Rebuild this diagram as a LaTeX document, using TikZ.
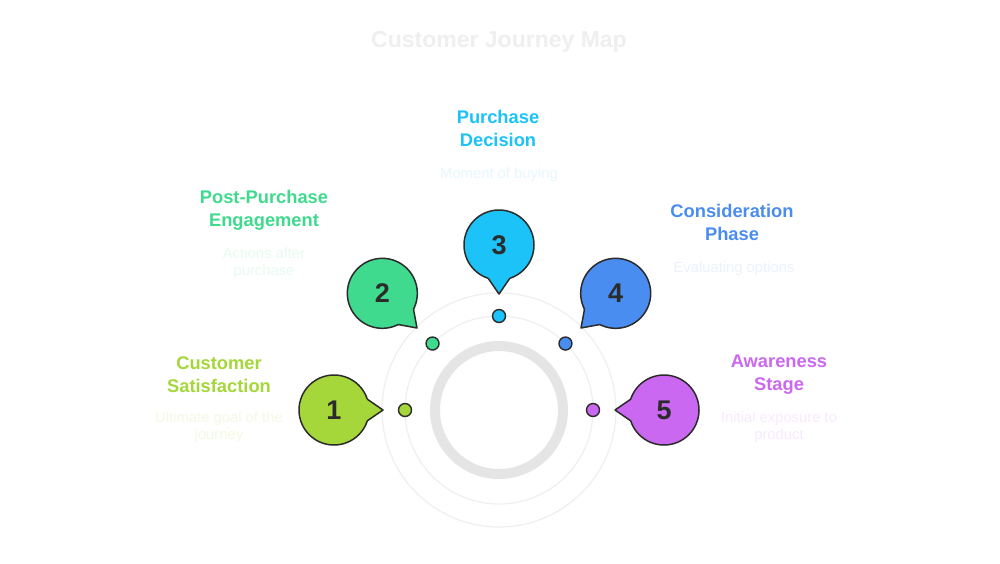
\documentclass[tikz,border=0pt]{standalone}
\usepackage{fontspec}
\setmainfont{Liberation Sans}
\usetikzlibrary{calc}
\usepackage{xcolor}

\definecolor{ink}{HTML}{2B2B2B}
\definecolor{limeC}{HTML}{A5D73A}
\definecolor{greenC}{HTML}{40DA8E}
\definecolor{cyanC}{HTML}{1BC3F8}
\definecolor{blueC}{HTML}{4A8DF0}
\definecolor{purpleC}{HTML}{CB68F1}
\definecolor{limeF}{HTML}{F3F9E4}
\definecolor{greenF}{HTML}{E8FBF1}
\definecolor{cyanF}{HTML}{E7F7FE}
\definecolor{blueF}{HTML}{ECF2FD}
\definecolor{purpleF}{HTML}{F8EAFD}
\definecolor{faintgrey}{HTML}{EFEFEF}

\tikzset{
	bubble/.style={circle, draw=ink, line width=1.5pt, minimum size=70pt, inner sep=0pt,
		text=ink, font=\fontsize{27}{27}\selectfont\bfseries},
	tipline/.style={draw=ink, line width=1.5pt, line join=round},
	dot/.style={circle, draw=ink, line width=1.4pt, minimum size=13pt, inner sep=0pt},
	thinring/.style={draw=faintgrey, line width=1.2pt},
	head/.style={align=center, font=\fontsize{18.3}{23}\selectfont\bfseries},
	note/.style={align=center, font=\fontsize{14.8}{17}\selectfont},
}

% name, angle from the middle, colour, number
\newcommand{\speech}[4]{%
	\node[bubble, fill=#3] (#1) at ($(O)+(#2:165)$) {#4};
	\fill[#3] ($(#1.center)+(#2+162:30)$) -- ($(#1.center)+(#2+162:35)$)
		-- ($(#1.center)+(#2+180:49)$) -- ($(#1.center)+(#2+198:35)$)
		-- ($(#1.center)+(#2+198:30)$) -- cycle;
	\draw[tipline] ($(#1.center)+(#2+162:35)$) -- ($(#1.center)+(#2+180:49)$)
		-- ($(#1.center)+(#2+198:35)$);
}

\begin{document}
\begin{tikzpicture}[x=1pt, y=-1pt]
	\fill[white] (0,0) rectangle (1000,563);
	\useasboundingbox (0,0) rectangle (1000,563);
	\coordinate (O) at (499,410);

	\node (title) at (499,42) [text=faintgrey, font=\fontsize{23}{23}\selectfont\bfseries] {Customer Journey Map};

	% rings
	\draw[thinring] (O) circle[radius=117];
	\draw[thinring] (O) circle[radius=94];
	\draw[draw=black!10, line width=10pt] (O) circle[radius=64];

	% dots on the inner ring
	\node[dot, fill=limeC] (d1) at ($(O)+(180:94)$) {};
	\node[dot, fill=greenC] (d2) at ($(O)+(225:94)$) {};
	\node[dot, fill=cyanC] (d3) at ($(O)+(270:94)$) {};
	\node[dot, fill=blueC] (d4) at ($(O)+(315:94)$) {};
	\node[dot, fill=purpleC] (d5) at ($(O)+(0:94)$) {};

	% bubbles
	\speech{b1}{180}{limeC}{1}
	\speech{b2}{225}{greenC}{2}
	\speech{b3}{270}{cyanC}{3}
	\speech{b4}{315}{blueC}{4}
	\speech{b5}{0}{purpleC}{5}

	% labels
	\node (h1) at (219,374.5) [head, text=limeC] {Customer\\Satisfaction};
	\node (n1) at (219,427.5) [note, text=limeF] {Ultimate goal of the\\journey};
	\node (h2) at (264,210.5) [head, text=greenC] {Post-Purchase\\Engagement};
	\node (n2) at (264,263.5) [note, text=greenF] {Actions after\\purchase};
	\node (h3) at (498,128.5) [head, text=cyanC] {Purchase\\Decision};
	\node (n3) at (499,175) [note, text=cyanF] {Moment of buying};
	\node (h4) at (732,222.5) [head, text=blueC] {Consideration\\Phase};
	\node (n4) at (734,269) [note, text=blueF] {Evaluating options};
	\node (h5) at (779,374.5) [head, text=purpleC] {Awareness\\Stage};
	\node (n5) at (779,427.5) [note, text=purpleF] {Initial exposure to\\product};
\end{tikzpicture}
\end{document}
